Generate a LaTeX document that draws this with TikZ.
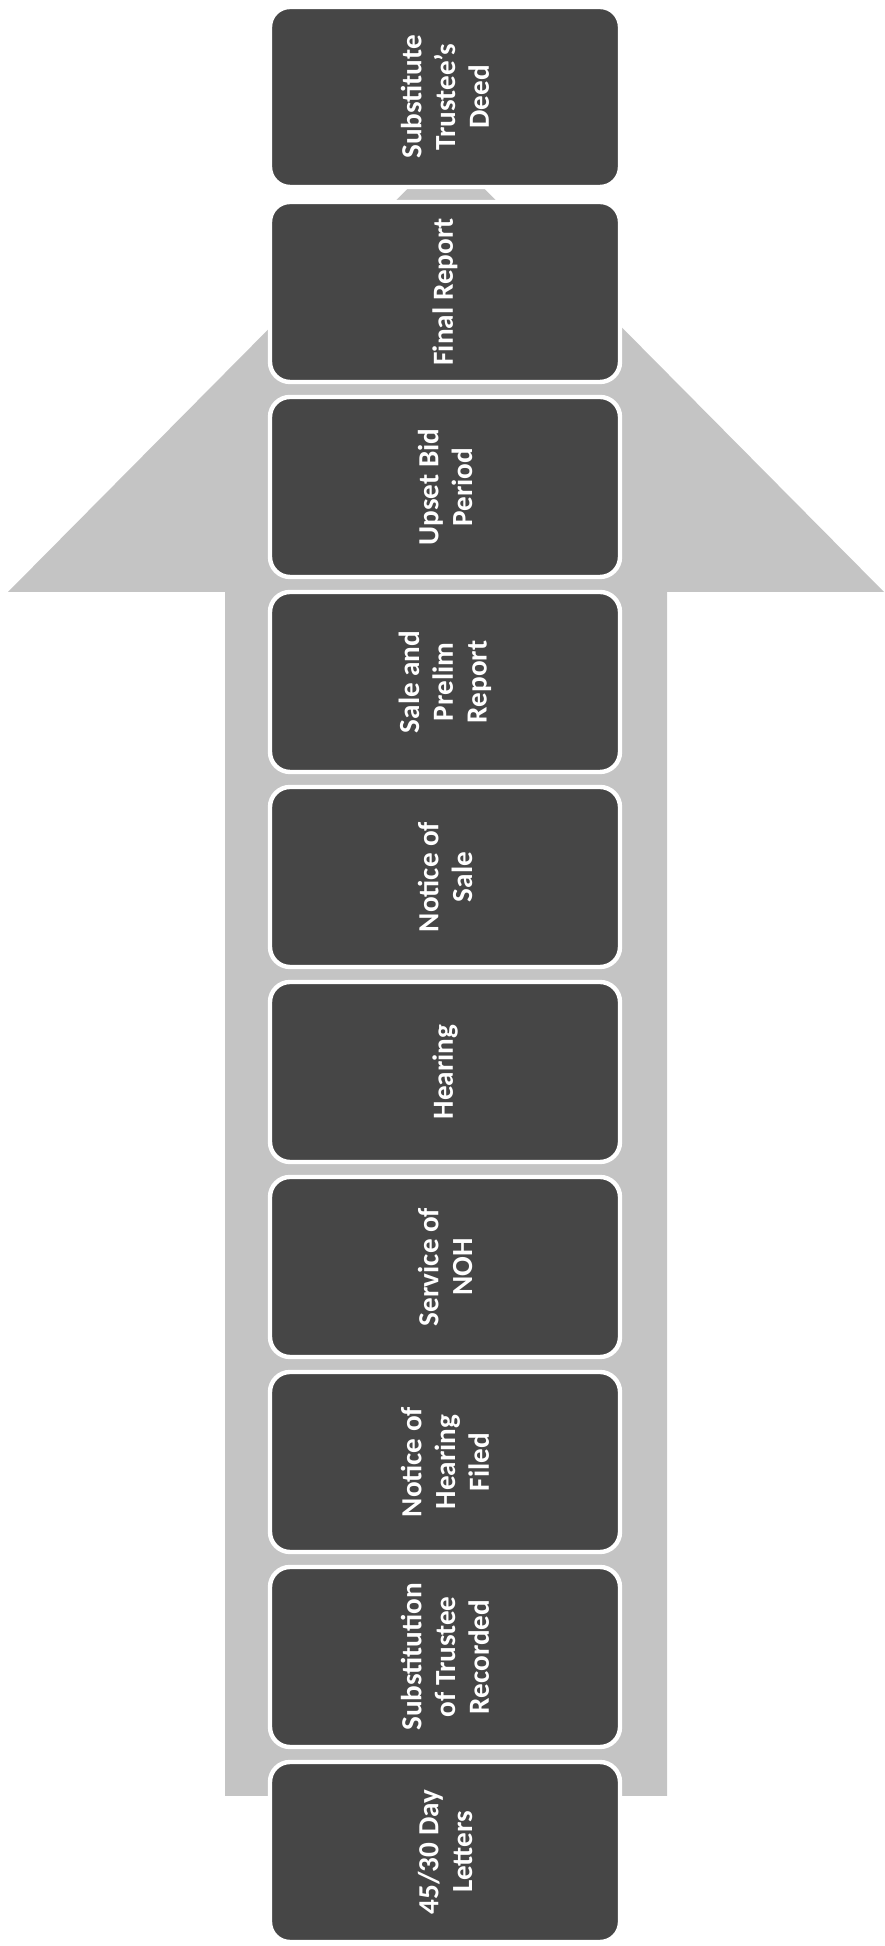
\documentclass[tikz,border=0pt]{standalone}
\usepackage{fontspec}
\setmainfont{Carlito}
\usepackage{xcolor}
\usepackage{tikz}
\usetikzlibrary{positioning}

\definecolor{stagegray}{HTML}{464646}
\definecolor{arrowgray}{HTML}{C4C4C4}

\begin{document}
\begin{tikzpicture}[
  stage/.style={draw=white, line width=2.5pt, rounded corners=0.4cm, fill=stagegray, text=white,
    rotate=90, minimum width=3.6cm, minimum height=7.0cm, align=center,
    font=\bfseries\fontsize{16.6}{19.2}\selectfont},
]
\useasboundingbox (0,0) rectangle (17.7,38.92);

\fill[arrowgray] (4.50,3.00) -- (4.50,27.08) -- (0.16,27.08) -- (8.92,35.92)
  -- (17.68,27.08) -- (13.34,27.08) -- (13.34,3.00) -- cycle;

\node[stage] (deed) at (8.9, 36.98) {Substitute\\Trustee's\\Deed};
\node[stage] (finalrep) at (8.9, 33.08) {Final Report};
\node[stage] (upset) at (8.9, 29.18) {Upset Bid\\Period};
\node[stage] (sale) at (8.9, 25.28) {Sale and\\Prelim\\Report};
\node[stage] (notice) at (8.9, 21.38) {Notice of\\Sale};
\node[stage] (hearing) at (8.9, 17.48) {Hearing};
\node[stage] (service) at (8.9, 13.58) {Service of\\NOH};
\node[stage] (nohfiled) at (8.9, 9.68) {Notice of\\Hearing\\Filed};
\node[stage] (subst) at (8.9, 5.78) {Substitution\\of Trustee\\Recorded};
\node[stage] (letters) at (8.9, 1.88) {45/30 Day\\Letters};
\end{tikzpicture}
\end{document}
